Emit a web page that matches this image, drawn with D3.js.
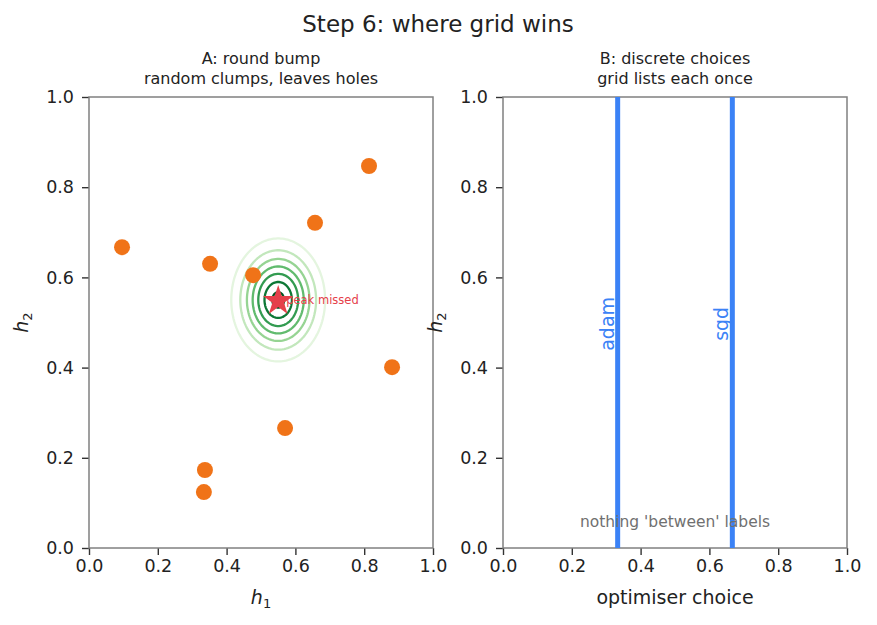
<!DOCTYPE html>
<html>
<head>
<meta charset="utf-8">
<script src="https://cdn.jsdelivr.net/npm/d3@7"></script>
<style>
	body { margin: 0; background: #ffffff; }
	svg { font-family: "DejaVu Sans", sans-serif; }
</style>
</head>
<body>
<svg id="chart" width="877" height="625"></svg>
<script>
// random samples (panel A)
var sampleH1 = [0.096, 0.352, 0.477, 0.657, 0.814, 0.881, 0.570, 0.337, 0.334];
var sampleH2 = [0.667, 0.630, 0.605, 0.721, 0.847, 0.401, 0.266, 0.173, 0.124];
// the round bump
var peak = [0.55, 0.55];
var bumpWidth = 0.07;
var contourLevels = [0.15, 0.29, 0.43, 0.57, 0.71, 0.85, 0.97];
// panel B
var choices = ["adam", "sgd"];
var choicePos = [1 / 3, 2 / 3];
var ticks = [0.0, 0.2, 0.4, 0.6, 0.8, 1.0];

var svg = d3.select("#chart");
var blue = "#3b82f6";
var orange = "#f07318";
var red = "#e5404a";

var panelTop = 97, panelBottom = 548;
var panels = [
	{ left: 89, right: 433 },
	{ left: 503, right: 847 }
];

svg.append("text")
	.attr("x", 438).attr("y", 32)
	.attr("text-anchor", "middle")
	.attr("font-size", "23px")
	.attr("fill", "#222")
	.text("Step 6: where grid wins");

function subscriptLabel(letter, sub) {
	return '<tspan font-style="italic">' + letter + '</tspan><tspan font-size="13px" dy="4">' + sub + '</tspan>';
}

function buildAxes(p, titleLines, xlabel) {
	var x = d3.scaleLinear().domain([0, 1]).range([p.left, p.right]);
	var y = d3.scaleLinear().domain([0, 1]).range([panelBottom, panelTop]);

	var g = svg.append("g");

	titleLines.forEach(function(t, i) {
		g.append("text")
			.attr("x", (p.left + p.right) / 2)
			.attr("y", 64 + i * 20)
			.attr("text-anchor", "middle")
			.attr("font-size", "16px")
			.attr("fill", "#222")
			.text(t);
	});

	var xAxis = g.append("g")
		.attr("transform", "translate(0," + panelBottom + ")")
		.call(d3.axisBottom(x).tickValues(ticks).tickFormat(d3.format(".1f")).tickSize(7).tickPadding(5));
	var yAxis = g.append("g")
		.attr("transform", "translate(" + p.left + ",0)")
		.call(d3.axisLeft(y).tickValues(ticks).tickFormat(d3.format(".1f")).tickSize(7).tickPadding(8));

	[xAxis, yAxis].forEach(function(a) {
		a.select(".domain").remove();
		a.selectAll(".tick line").attr("stroke", "#333").attr("stroke-width", 1.4);
		a.selectAll(".tick text").attr("font-size", "17.5px").attr("fill", "#222")
			.attr("font-family", "DejaVu Sans, sans-serif");
	});

	g.append("rect")
		.attr("class", "frame")
		.attr("x", p.left).attr("y", panelTop)
		.attr("width", p.right - p.left).attr("height", panelBottom - panelTop)
		.attr("fill", "none")
		.attr("stroke", "#808080")
		.attr("stroke-width", 1.5);

	g.append("text")
		.attr("x", (p.left + p.right) / 2)
		.attr("y", 604)
		.attr("text-anchor", "middle")
		.attr("font-size", "19px")
		.attr("fill", "#222")
		.html(xlabel);

	g.append("text")
		.attr("transform", "translate(" + (p.left - 61) + "," + ((panelTop + panelBottom) / 2) + ") rotate(-90)")
		.attr("text-anchor", "middle")
		.attr("font-size", "19px")
		.attr("fill", "#222")
		.html(subscriptLabel("h", "2"));

	return { g: g, x: x, y: y };
}

/* PANEL A */
var A = buildAxes(panels[0], ["A: round bump", "random clumps, leaves holes"], subscriptLabel("h", "1"));

var n = 200;
var grid = new Array(n * n);
for (var j = 0; j < n; j++) {
	for (var i = 0; i < n; i++) {
		var gx = (i + 0.5) / n, gy = (j + 0.5) / n;
		var r2 = (gx - peak[0]) * (gx - peak[0]) + (gy - peak[1]) * (gy - peak[1]);
		grid[j * n + i] = Math.exp(-r2 / (2 * bumpWidth * bumpWidth));
	}
}
var contours = d3.contours().size([n, n]).thresholds(contourLevels)(grid);
var proj = d3.geoTransform({
	point: function(px, py) {
		this.stream.point(A.x(px / n), A.y(py / n));
	}
});
var green = d3.scaleLinear().domain([contourLevels[0], contourLevels[contourLevels.length - 1]]).range([0.12, 0.95]);
A.g.insert("g", ".frame").selectAll("path")
	.data(contours)
	.enter()
	.append("path")
	.attr("d", d3.geoPath(proj))
	.attr("fill", "none")
	.attr("stroke", function(d) {
		return d3.interpolateGreens(green(d.value));
	})
	.attr("stroke-width", 2.3);

A.g.selectAll("circle.sample")
	.data(sampleH1)
	.enter()
	.append("circle")
	.attr("class", "sample")
	.attr("cx", function(d) { return A.x(d); })
	.attr("cy", function(d, i) { return A.y(sampleH2[i]); })
	.attr("r", 8)
	.attr("fill", orange);

A.g.append("text")
	.attr("x", A.x(peak[0]) + 8)
	.attr("y", A.y(peak[1]) + 4)
	.attr("font-size", "11.5px")
	.attr("fill", red)
	.text("peak missed");

// five-pointed star marker, drawn over the label
var starOuter = 16, starInner = starOuter * 0.382;
var starPts = d3.range(10).map(function(k) {
	return [k * Math.PI / 5, k % 2 ? starInner : starOuter];
});
A.g.append("path")
	.attr("d", d3.lineRadial().curve(d3.curveLinearClosed)(starPts))
	.attr("transform", "translate(" + A.x(peak[0]) + "," + (A.y(peak[1]) + 1) + ")")
	.attr("fill", red);

/* PANEL B */
var B = buildAxes(panels[1], ["B: discrete choices", "grid lists each once"], "optimiser choice");

B.g.selectAll("line.choice")
	.data(choicePos)
	.enter()
	.append("line")
	.attr("class", "choice")
	.attr("x1", function(d) { return B.x(d); })
	.attr("x2", function(d) { return B.x(d); })
	.attr("y1", B.y(0))
	.attr("y2", B.y(1))
	.attr("stroke", blue)
	.attr("stroke-width", 5);

B.g.selectAll("text.choice")
	.data(choices)
	.enter()
	.append("text")
	.attr("class", "choice")
	.attr("transform", function(d, i) {
		return "translate(" + (B.x(choicePos[i]) - 4) + "," + B.y(0.497) + ") rotate(-90)";
	})
	.attr("text-anchor", "middle")
	.attr("font-size", "19px")
	.attr("fill", blue)
	.text(function(d) { return d; });

B.g.append("text")
	.attr("x", B.x(0.5))
	.attr("y", B.y(0.06) + 6)
	.attr("text-anchor", "middle")
	.attr("font-size", "15.5px")
	.attr("fill", "#707070")
	.text("nothing 'between' labels");
</script>
</body>
</html>
